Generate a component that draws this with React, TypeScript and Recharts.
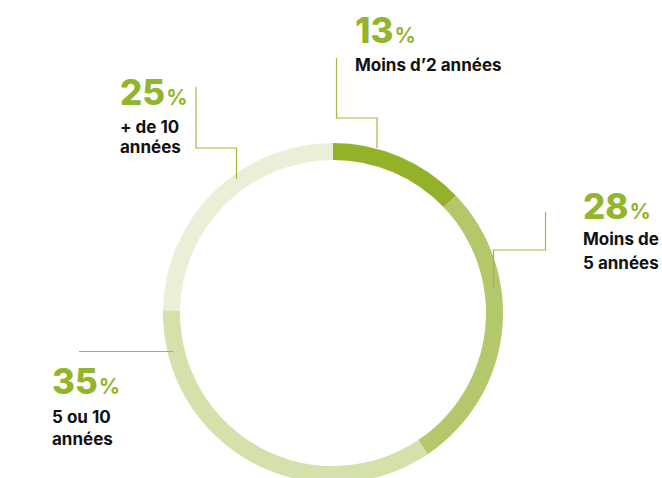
import React from 'react';
import { PieChart, Pie, Cell } from 'recharts';

const categories = ["Moins d'2 années", 'Moins de 5 années', '5 ou 10 années', '+ de 10 années'];
const shares = [13, 28, 35, 25];
const labelLines = [["Moins d\u20192 années"], ['Moins de', '5 années'], ['5 ou 10', 'années'], ['+ de 10', 'années']];

const SLICE_COLORS = ['#94b12a', '#b3c86b', '#d4e1ab', '#e9f0d7'];
const GREEN = '#93b52c';
const LINE = '#9dbb3e';
const FONT = 'Inter, "Noto Sans", sans-serif';

// annotation layout: text anchor + leader polyline, per slice
const ANNOT = [
  { x: 355, pct: 43, lines: [71], path: [[336.5, 58], [336.5, 118], [377, 118], [377, 148]] },
  { x: 583, pct: 219, lines: [245, 269], path: [[545.5, 212], [545.5, 250], [493.5, 250], [493.5, 288]] },
  { x: 52, pct: 394, lines: [423, 445], path: [[79, 351.5], [173, 351.5]] },
  { x: 120, pct: 105, lines: [133, 153], path: [[196, 87], [196, 148], [236.5, 148], [236.5, 179]] },
];

const data = categories.map((name, i) => ({ name, value: shares[i] }));

function renderLabel(props: any) {
  const i = props.index;
  const a = ANNOT[i];
  const pts = a.path.map((p) => p.join(',')).join(' ');
  return (
    <g key={`lbl-${i}`}>
      <polyline points={pts} fill="none" stroke={LINE} strokeWidth={1.2} />
      <text x={a.x} y={a.pct} fill={GREEN} fontFamily={FONT} fontWeight={800} fontSize={35}>
        {shares[i]}
        <tspan fontSize={21} fontWeight={700} dx={1}>%</tspan>
      </text>
      {labelLines[i].map((t, j) => (
        <text key={j} x={a.x} y={a.lines[j]} fill="#111" fontFamily={FONT} fontWeight={700} fontSize={17}>
          {t}
        </text>
      ))}
    </g>
  );
}

export default function App() {
  return (
    <div style={{ position: 'absolute', left: 0, top: 0, width: 662, height: 478, background: '#fff', overflow: 'hidden' }}>
      <PieChart width={662} height={478} margin={{ top: 0, right: 0, bottom: 0, left: 0 }}>
        <Pie
          data={data}
          dataKey="value"
          cx={333}
          cy={313}
          innerRadius={153}
          outerRadius={170}
          startAngle={90}
          endAngle={-270}
          stroke="none"
          label={renderLabel}
          labelLine={false}
          isAnimationActive={false}
        >
          {data.map((d, i) => (
            <Cell key={d.name} fill={SLICE_COLORS[i]} />
          ))}
        </Pie>
      </PieChart>
    </div>
  );
}
